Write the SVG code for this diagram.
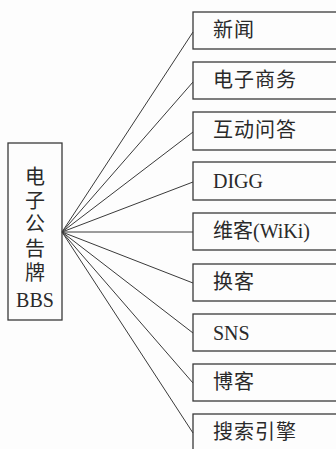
<svg xmlns="http://www.w3.org/2000/svg" width="336" height="449" viewBox="0 0 336 449">
<style>
.box{fill:none;stroke:#3a3a3a;stroke-width:1.3}
.ln{stroke:#3a3a3a;stroke-width:1;fill:none}
.t{font-family:'Liberation Serif','Times New Roman','DejaVu Serif','Noto Sans CJK SC',serif;font-size:20px;fill:#2a2a2a}
</style>
<rect width="336" height="449" fill="#fdfdfd"/>
<g id="connectors">
<line class="ln" x1="62" y1="232" x2="193" y2="32"/>
<line class="ln" x1="62" y1="232" x2="193" y2="82"/>
<line class="ln" x1="62" y1="232" x2="193" y2="132"/>
<line class="ln" x1="62" y1="232" x2="193" y2="182"/>
<line class="ln" x1="62" y1="232" x2="193" y2="232"/>
<line class="ln" x1="62" y1="232" x2="193" y2="283"/>
<line class="ln" x1="62" y1="232" x2="193" y2="333"/>
<line class="ln" x1="62" y1="232" x2="193" y2="383"/>
<line class="ln" x1="62" y1="232" x2="193" y2="433"/>
</g>
<g id="bbs">
<rect class="box" x="8" y="143" width="54" height="177"/>
<text class="t" x="35" y="184" text-anchor="middle">电</text>
<text class="t" x="35" y="208" text-anchor="middle">子</text>
<text class="t" x="35" y="231" text-anchor="middle">公</text>
<text class="t" x="35" y="256" text-anchor="middle">告</text>
<text class="t" x="35" y="280" text-anchor="middle">牌</text>
<text class="t" x="35" y="307" text-anchor="middle">BBS</text>
</g>
<g id="n1"><rect class="box" x="193" y="12" width="160" height="37"/><text class="t" x="213" y="37" letter-spacing="1">新闻</text></g>
<g id="n2"><rect class="box" x="193" y="62" width="160" height="37"/><text class="t" x="213" y="87" letter-spacing="1">电子商务</text></g>
<g id="n3"><rect class="box" x="193" y="112" width="160" height="38"/><text class="t" x="213" y="137" letter-spacing="1">互动问答</text></g>
<g id="n4"><rect class="box" x="193" y="162" width="160" height="38"/><text class="t" x="213" y="188">DIGG</text></g>
<g id="n5"><rect class="box" x="193" y="213" width="160" height="37"/><text class="t" x="213" y="238">维客(WiKi)</text></g>
<g id="n6"><rect class="box" x="193" y="264" width="160" height="37"/><text class="t" x="213" y="289" letter-spacing="1">换客</text></g>
<g id="n7"><rect class="box" x="193" y="314" width="160" height="37"/><text class="t" x="213" y="340">SNS</text></g>
<g id="n8"><rect class="box" x="193" y="364" width="160" height="37"/><text class="t" x="213" y="389" letter-spacing="1">博客</text></g>
<g id="n9"><rect class="box" x="193" y="414" width="160" height="40"/><text class="t" x="213" y="439" letter-spacing="1">搜索引擎</text></g>
</svg>
